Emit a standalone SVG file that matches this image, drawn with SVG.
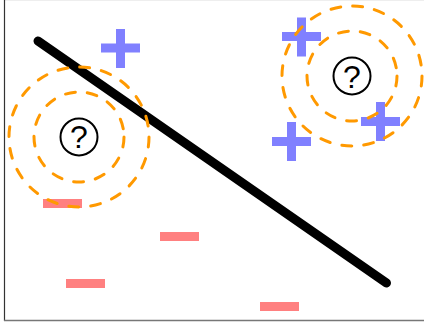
<svg xmlns="http://www.w3.org/2000/svg" width="424" height="327" viewBox="0 0 424 327">
<style>
.plus{fill:#8080ff}
.minus{fill:#ff8080}
.ring{fill:none;stroke:#ff9900;stroke-width:3;stroke-dasharray:10 12;stroke-linecap:round}
.q{fill:#fff;stroke:#000;stroke-width:2}
.qt{font-family:"Liberation Sans",Arial,sans-serif;font-size:32px;text-anchor:middle;fill:#000}
</style>
<rect x="0" y="0" width="424" height="327" fill="#fff"/>
<line x1="4" y1="0.5" x2="424" y2="0.5" stroke="#eeeeee" stroke-width="1"/>
<line x1="4.5" y1="0" x2="4.5" y2="321" stroke="#333333" stroke-width="1.2"/>
<line x1="4" y1="320.5" x2="424" y2="320.5" stroke="#777777" stroke-width="1.5"/>
<g id="minuses">
<rect class="minus" x="43" y="199" width="39" height="9"/>
<rect class="minus" x="160" y="232" width="39" height="9"/>
<rect class="minus" x="66" y="279" width="39" height="9"/>
<rect class="minus" x="260" y="302" width="39" height="9"/>
</g>
<g id="pluses">
<g id="plus1"><rect class="plus" x="101" y="43.5" width="39" height="9"/><rect class="plus" x="116" y="29" width="9" height="39"/></g>
<g id="plus2"><rect class="plus" x="282" y="32" width="39" height="9"/><rect class="plus" x="297" y="17.5" width="9" height="39"/></g>
<g id="plus3"><rect class="plus" x="361" y="117" width="39" height="9"/><rect class="plus" x="376" y="102" width="9" height="39"/></g>
<g id="plus4"><rect class="plus" x="272" y="137" width="39" height="9"/><rect class="plus" x="287" y="122" width="9" height="39"/></g>
</g>
<g id="connectors">
<line x1="38" y1="41" x2="386.5" y2="283" stroke="#000" stroke-width="9" stroke-linecap="round"/>
</g>
<g id="query-left">
<circle class="ring" cx="79" cy="137" r="70"/>
<circle class="ring" cx="79" cy="137" r="45"/>
<circle class="q" cx="79" cy="137" r="18.5"/>
<text class="qt" x="79" y="148.3">?</text>
</g>
<g id="query-right">
<circle class="ring" cx="352" cy="76" r="70"/>
<circle class="ring" cx="352" cy="76" r="45"/>
<circle class="q" cx="352" cy="76" r="18.5"/>
<text class="qt" x="352" y="87.5">?</text>
</g>
</svg>
